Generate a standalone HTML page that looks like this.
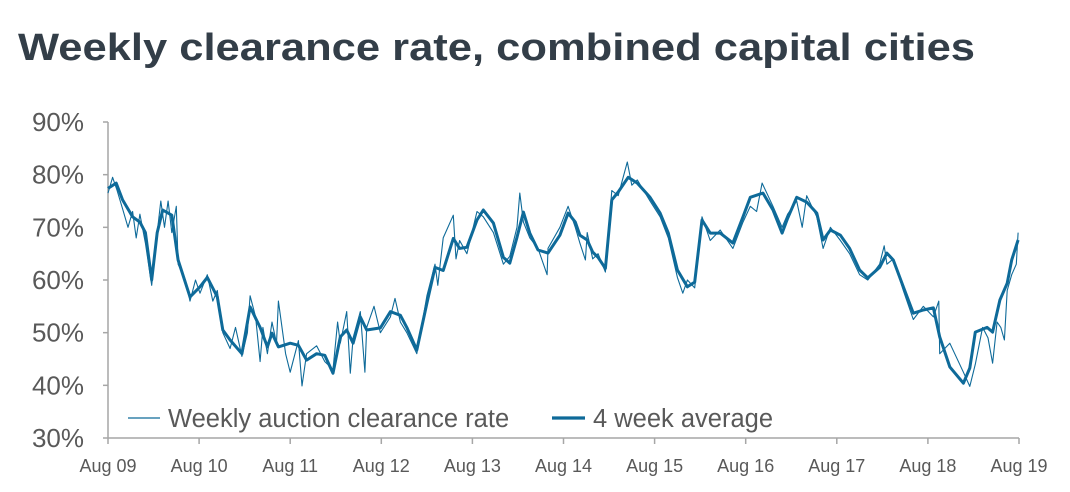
<!DOCTYPE html>
<html><head><meta charset="utf-8"><style>
html,body{margin:0;padding:0;background:#fff;}
svg{display:block;font-family:"Liberation Sans",Arial,sans-serif;}
</style></head><body>
<svg id="chart" width="1070" height="492" viewBox="0 0 1070 492" xmlns="http://www.w3.org/2000/svg">
<text x="18" y="60" font-size="38" font-weight="bold" fill="#333e48" textLength="957" lengthAdjust="spacingAndGlyphs">Weekly clearance rate, combined capital cities</text>
<g id="axes"></g>
<g id="series"></g>
<g>
<line x1="128" y1="418" x2="160" y2="418" stroke="#0e6a99" stroke-width="1.3"/>
<text x="168" y="427" font-size="25.5" fill="#595959">Weekly auction clearance rate</text>
<line x1="552" y1="418" x2="585" y2="418" stroke="#0e6a99" stroke-width="3.2"/>
<text x="593" y="427" font-size="25.5" fill="#595959">4 week average</text>
</g>
</svg>
<script>
const yTicks=[30,40,50,60,70,80,90];
const yTickLabels=["30%","40%","50%","60%","70%","80%","90%"];
const xTickLabels=["Aug 09","Aug 10","Aug 11","Aug 12","Aug 13","Aug 14","Aug 15","Aug 16","Aug 17","Aug 18","Aug 19"];
const avgYears=[0,.09,.16,.27,.35,.41,.48,.54,.60,.70,.77,.90,1.01,1.09,1.20,1.26,1.34,1.47,1.56,1.67,1.75,1.80,1.87,2.00,2.09,2.18,2.29,2.38,2.47,2.55,2.62,2.69,2.77,2.84,2.99,3.10,3.21,3.28,3.39,3.50,3.59,3.68,3.79,3.86,3.94,4.05,4.12,4.23,4.34,4.41,4.49,4.56,4.63,4.72,4.83,4.96,5.05,5.13,5.18,5.26,5.32,5.38,5.46,5.53,5.60,5.71,5.81,5.95,6.06,6.15,6.25,6.36,6.44,6.52,6.61,6.72,6.86,6.97,7.05,7.19,7.30,7.40,7.46,7.56,7.67,7.78,7.85,7.93,8.04,8.14,8.25,8.34,8.47,8.55,8.62,8.73,8.84,8.95,9.06,9.13,9.24,9.39,9.46,9.52,9.65,9.71,9.79,9.87,9.92,9.99];
const avgValues=[77.4,78.4,75.2,72,71,69,60,69,73.3,72.3,63.8,56.8,58.7,60.5,56.8,50.5,48.6,46,54.9,51,47.3,49.9,47.3,48,47.6,44.8,46,45.7,42.3,49.2,50.5,48,53,50.5,50.9,54,53.3,51,46.7,55.6,62.4,61.8,67.9,66,66.2,71.4,73.3,70.8,64.3,63.2,68.1,72.9,68.9,65.7,65.1,68.5,72.7,71,68.5,67.6,65.3,64.3,62.2,75.2,76.7,79.5,78.4,75.7,72.7,68.9,61.9,58.7,59.6,71.4,68.9,68.9,67,72,75.7,76.5,73.3,68.9,71.7,75.7,74.8,72.7,67.6,69.5,68.5,66,61.9,60.4,62.4,65.1,63.8,58.7,53.7,54.3,54.7,49.2,43.5,40.4,43.3,50.1,51,50.1,56.2,59.4,63.8,67.6];
const weeklyYears=[0,.05,.1,.16,.22,.27,.31,.35,.41,.48,.52,.58,.62,.66,.70,.75,.77,.85,.90,.96,1.01,1.09,1.15,1.20,1.26,1.34,1.40,1.47,1.53,1.56,1.62,1.67,1.70,1.75,1.80,1.85,1.87,1.95,2.00,2.09,2.13,2.18,2.29,2.38,2.47,2.52,2.55,2.62,2.66,2.69,2.77,2.82,2.84,2.92,2.99,3.10,3.15,3.21,3.28,3.39,3.50,3.59,3.62,3.68,3.79,3.82,3.86,3.94,4.05,4.12,4.23,4.34,4.41,4.49,4.52,4.56,4.63,4.72,4.82,4.83,4.96,5.05,5.13,5.18,5.24,5.26,5.32,5.38,5.46,5.53,5.60,5.70,5.75,5.81,5.95,6.06,6.15,6.25,6.31,6.36,6.44,6.52,6.61,6.72,6.86,6.97,7.05,7.12,7.18,7.30,7.40,7.46,7.56,7.62,7.67,7.78,7.85,7.93,8.04,8.14,8.25,8.34,8.47,8.52,8.55,8.62,8.73,8.84,8.95,9.06,9.12,9.13,9.24,9.39,9.46,9.52,9.60,9.66,9.71,9.76,9.80,9.84,9.87,9.92,9.97,9.99];
const weeklyValues=[76.5,79.5,77,73.5,70,73,68,72.5,67,59,66,75,70,75,69,74,63,60,56,60,57.5,61,56,58,50,47,51,45.5,50,57,53,44.5,51,46,52,48,56,46,42.5,48.5,39.9,46,47.5,44.5,43,52,48,54,42.3,49,54,42.5,51,55,50,53,56.5,52,50,46,57,63,59,68,72.3,64,67.5,65,73,72,69,63,64.5,70,76.5,71,68,66,61,66,70,74,70,67,63.8,69,64,65,61.5,77,76,82.4,78,79,75,72,68,60.5,57.5,60,58.5,72,67.5,69.5,66,71,74,73,78.4,74,70,72.5,75,70,76,72,66,70,67.5,65,61,60,63,66.5,63,64,58,52.5,55,53,56,46,48,42.5,39.8,44,51,49,44.2,52,51,48.6,58,61,63,69,73.3];

const X0=108,X1=1019,Y0=438,Y1=122;
function xScale(t){return X0+(X1-X0)*t/10;}
function yScale(v){return Y0-(Y0-Y1)*(v-30)/60;}
const NS="http://www.w3.org/2000/svg";
const axes=document.getElementById('axes');
const series=document.getElementById('series');
function mk(tag,attrs,parent){const e=document.createElementNS(NS,tag);for(const k in attrs)e.setAttribute(k,attrs[k]);parent.appendChild(e);return e;}

const yAxis=mk('line',{x1:X0,y1:Y1,x2:X0,y2:Y0,stroke:'#a6a6a6','stroke-width':1.5},axes);


const xAxis=mk('line',{x1:X0,y1:Y0,x2:X1,y2:Y0,stroke:'#a6a6a6','stroke-width':1.5},axes);



yTicks.forEach((v,i)=>{
  const y=yScale(v);
  const tk=mk('line',{x1:X0-5,y1:y,x2:X0,y2:y,stroke:'#a6a6a6','stroke-width':1.5},axes);
  
  
  const tx=mk('text',{x:84,y:y+9,'text-anchor':'end','font-size':26,fill:'#595959'},axes);
  tx.textContent=yTickLabels[i];
  
  
});
xTickLabels.forEach((lab,i)=>{
  const x=xScale(i);
  const tk=mk('line',{x1:x,y1:Y0,x2:x,y2:Y0+6,stroke:'#a6a6a6','stroke-width':1.5},axes);
  
  
  const tx=mk('text',{x:x,y:472,'text-anchor':'middle','font-size':18,fill:'#595959'},axes);
  tx.textContent=lab;
  
  
});
function pathOf(ts,vs){return ts.map((t,i)=>(i?'L':'M')+xScale(t).toFixed(1)+','+yScale(vs[i]).toFixed(1)).join('');}
const wk=mk('path',{d:pathOf(weeklyYears,weeklyValues),fill:'none',stroke:'#0e6a99','stroke-width':1.1,'stroke-linejoin':'round'},series);


const av=mk('path',{d:pathOf(avgYears,avgValues),fill:'none',stroke:'#0e6a99','stroke-width':3,'stroke-linejoin':'round'},series);


</script>
</body></html>
